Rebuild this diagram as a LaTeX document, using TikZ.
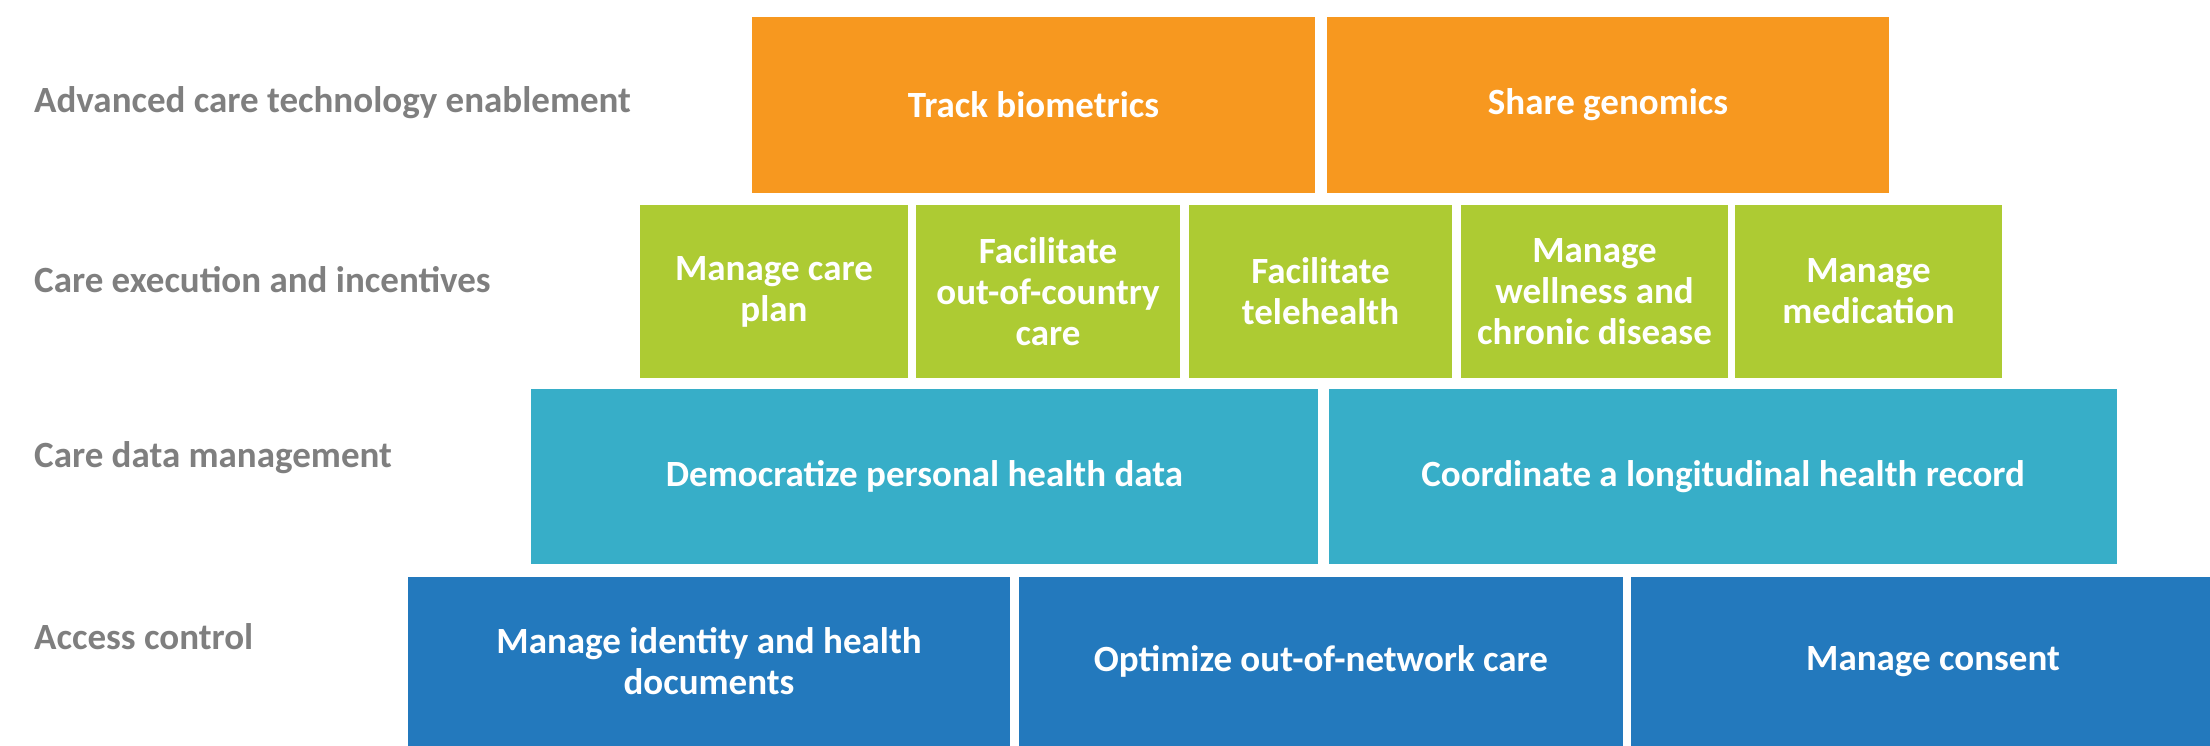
\documentclass[tikz,border=0pt]{standalone}
\usepackage{fontspec}
\setmainfont{Carlito}
\definecolor{techorange}{HTML}{F7981F}
\definecolor{carelime}{HTML}{ADCB33}
\definecolor{datateal}{HTML}{37AEC8}
\definecolor{accessblue}{HTML}{2379BD}
\definecolor{labelgray}{HTML}{7F7F7F}
\begin{document}
\begin{tikzpicture}[x=1pt, y=-1pt,
    cell/.style={inner sep=0pt, align=center, text=white,
        font=\fontsize{37}{41}\selectfont\bfseries},
    layer/.style={anchor=west, inner sep=0pt, text=labelgray,
        font=\fontsize{37}{41}\selectfont\bfseries}]
    \useasboundingbox (0,0) rectangle (2210,746);
    % layer names
    \node[layer] (tech) at (34,103) {Advanced care technology enablement};
    \node[layer] (exec) at (34,280) {Care execution and incentives};
    \node[layer] (data) at (34,458) {Care data management};
    \node[layer] (access) at (34,637) {Access control};
    % advanced care technology
    \node[cell, fill=techorange, minimum width=563pt, minimum height=176pt] (biometrics) at (1033.5,105) {Track biometrics};
    \node[cell, fill=techorange, minimum width=562pt, minimum height=176pt] (genomics) at (1608,105) {Share genomics};
    % care execution
    \node[cell, fill=carelime, minimum width=268pt, minimum height=173pt] (careplan) at (774,291.5) {Manage care\\plan};
    \node[cell, fill=carelime, minimum width=264pt, minimum height=173pt] (abroad) at (1048,291.5) {Facilitate\\out-of-country\\care};
    \node[cell, fill=carelime, minimum width=263pt, minimum height=173pt] (telehealth) at (1320.5,291.5) {Facilitate\\telehealth};
    \node[cell, fill=carelime, minimum width=267pt, minimum height=173pt] (wellness) at (1594.5,291.5) {Manage\\wellness and\\chronic disease};
    \node[cell, fill=carelime, minimum width=267pt, minimum height=173pt] (medication) at (1868.5,291.5) {Manage\\medication};
    % care data
    \node[cell, fill=datateal, minimum width=787pt, minimum height=175pt] (personal) at (924.5,476.5) {Democratize personal health data};
    \node[cell, fill=datateal, minimum width=788pt, minimum height=175pt] (record) at (1723,476.5) {Coordinate a longitudinal health record};
    % access control (last box runs off the page)
    \node[cell, fill=accessblue, minimum width=602pt, minimum height=169pt] (identity) at (709,661.5) {Manage identity and health\\documents};
    \node[cell, fill=accessblue, minimum width=604pt, minimum height=169pt] (network) at (1321,661.5) {Optimize out-of-network care};
    \node[cell, fill=accessblue, minimum width=604pt, minimum height=169pt] (consent) at (1933,661.5) {Manage consent};
\end{tikzpicture}
\end{document}
